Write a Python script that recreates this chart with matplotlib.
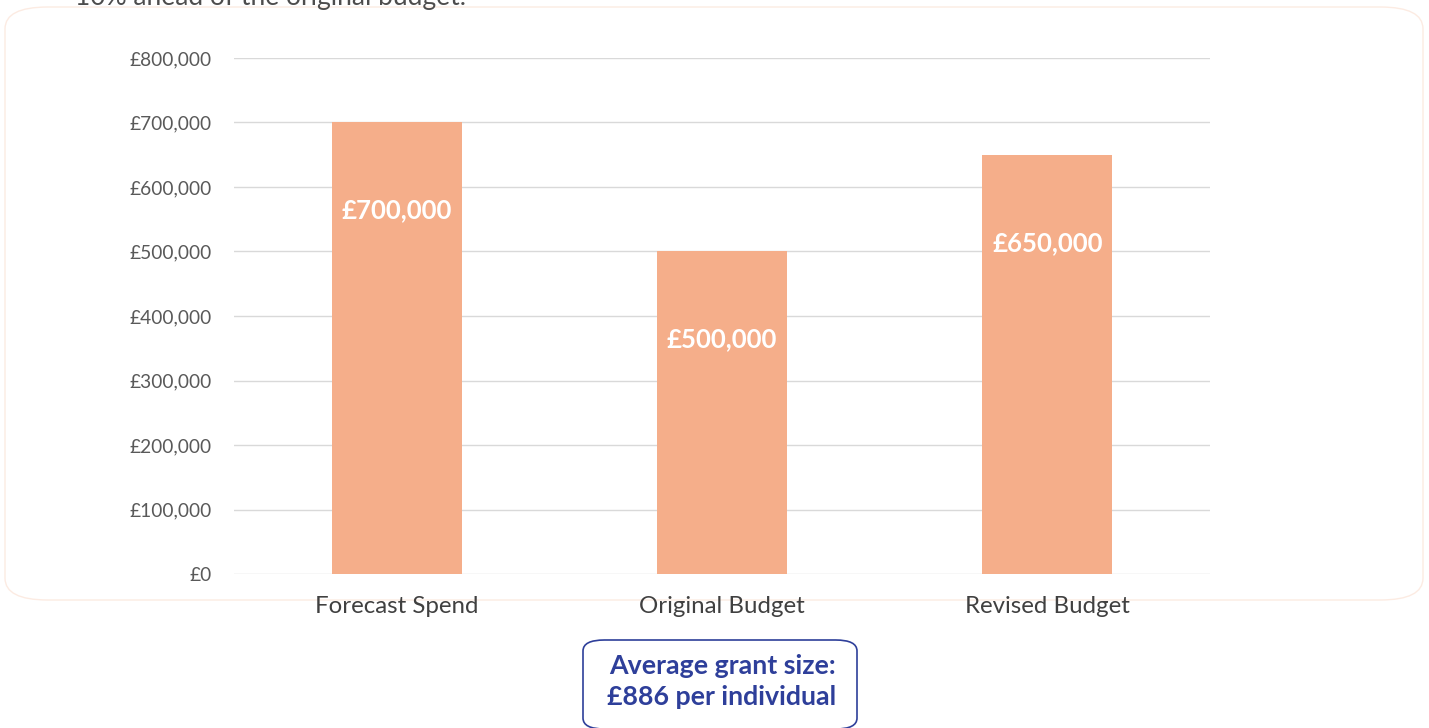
import matplotlib.pyplot as plt
from matplotlib.patches import FancyBboxPatch
from matplotlib.ticker import FuncFormatter

plt.rcParams['font.family'] = ['Lato', 'DejaVu Sans']

categories = ['Forecast Spend', 'Original Budget', 'Revised Budget']
values = [700000, 500000, 650000]
y_ticks = [0, 100000, 200000, 300000, 400000, 500000, 600000, 700000, 800000]
intro_text = '10% ahead of the original budget.'
note_lines = ['Average grant size:', '£886 per individual']

W, H = 1429, 728
fig = plt.figure(figsize=(W / 100, H / 100), dpi=100)
fig.patch.set_facecolor('white')

# rounded card behind the chart
card = FancyBboxPatch((5 / W, 1 - 600 / H), 1418 / W, 593 / H,
                      boxstyle='round,pad=0,rounding_size=0.03',
                      transform=fig.transFigure, facecolor='white',
                      edgecolor='#fcebe2', linewidth=1, zorder=-5)
fig.add_artist(card)

# text cut off at the top, as in the source
fig.text(75 / W, 1 - (-2) / H, intro_text, fontsize=19, color='#4d4d4d',
         ha='left', va='center')

ax = fig.add_axes([234 / W, 1 - 574 / H, 976 / W, 516 / H])
ax.set_facecolor('none')
x = list(range(len(categories)))
bars = ax.bar(x, values, width=0.4, color='#f5ae8a', zorder=2)

ax.set_xlim(-0.5, len(categories) - 0.5)
ax.set_ylim(0, 800000)
ax.set_yticks(y_ticks)
ax.yaxis.set_major_formatter(FuncFormatter(lambda v, p: '£{:,.0f}'.format(v)))
ax.set_xticks(x)
ax.set_xticklabels(categories)
ax.grid(axis='y', color='#d9d9d9', linewidth=1, zorder=0)
ax.set_axisbelow(True)
for s in ax.spines.values():
    s.set_visible(False)
ax.tick_params(axis='y', length=0, pad=16, labelsize=13.8, labelcolor='#595959')
ax.tick_params(axis='x', length=0, pad=16, labelsize=17.3, labelcolor='#404040')

for xi, v in zip(x, values):
    ax.annotate('£{:,.0f}'.format(v), (xi, v), xytext=(0, -88),
                textcoords='offset pixels', ha='center', va='center',
                fontsize=18.5, fontweight='bold', color='white', zorder=3)

# note box under the chart
box = FancyBboxPatch((583 / W, 1 - 729 / H), 274 / W, 89 / H,
                     boxstyle='round,pad=0,rounding_size=0.015',
                     transform=fig.transFigure, facecolor='white',
                     edgecolor='#2e3f9a', linewidth=1.2)
fig.add_artist(box)
fig.text(722 / W, 1 - 666 / H, note_lines[0], fontsize=19.3, fontweight='bold',
         color='#2e3f9a', ha='center', va='center')
fig.text(722 / W, 1 - 697 / H, note_lines[1], fontsize=19.3, fontweight='bold',
         color='#2e3f9a', ha='center', va='center')

fig.savefig('out.png', dpi=100)
